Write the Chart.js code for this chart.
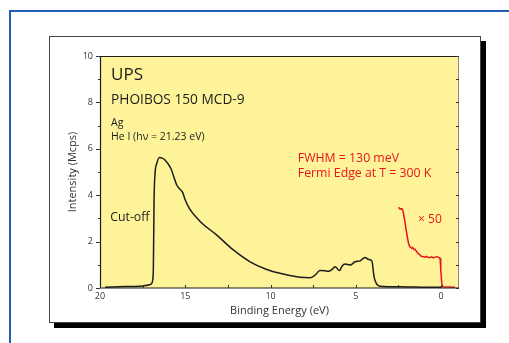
<!DOCTYPE html>
<html>
<head>
<meta charset="utf-8">
<script src="https://cdn.jsdelivr.net/npm/chart.js@4"></script>
<style>
  body { margin: 0; background: #fff; width: 509px; height: 343px; overflow: hidden; position: relative; }
  #frame { position: absolute; left: 9px; top: 10px; width: 600px; height: 400px; border-top: 2px solid #1f5fb5; border-left: 2px solid #1f5fb5; }
  #card { position: absolute; left: 49px; top: 36px; width: 430px; height: 285px; border: 1px solid #444; background: #fff; box-shadow: 5px 5px 0 #000; }
  canvas { display: block; }
</style>
</head>
<body>
<div id="frame"></div>
<div id="card"><canvas id="ups-chart" width="430" height="285"></canvas></div>
<script>
// spectrum, binding energy (eV) vs intensity (Mcps)
const energy = [19.7, 18.5, 17.5, 17.1, 16.97, 16.9, 16.87, 16.83, 16.77, 16.67, 16.52, 16.35, 16.19, 15.85, 15.5, 15.3, 15.15, 15.0, 14.76, 14.13, 13.15, 12.18, 11.2, 10.22, 9.25, 8.27, 7.68, 7.4, 7.1, 6.8, 6.61, 6.4, 6.22, 5.96, 5.8, 5.63, 5.34, 5.04, 4.75, 4.46, 4.26, 4.06, 3.93, 3.8, 3.68, 3.4, 2.5, 1.5, 0.5, 0.0, -0.05];
const intensity = [0.03, 0.06, 0.09, 0.14, 0.2, 0.4, 0.92, 3.8, 4.95, 5.37, 5.63, 5.6, 5.52, 5.16, 4.44, 4.25, 4.11, 3.79, 3.43, 2.87, 2.28, 1.64, 1.13, 0.8, 0.6, 0.46, 0.44, 0.55, 0.75, 0.74, 0.72, 0.8, 0.92, 0.75, 0.95, 1.03, 0.99, 1.13, 1.17, 1.32, 1.23, 1.17, 0.48, 0.2, 0.1, 0.06, 0.05, 0.04, 0.03, 0.03, 0.02];

// Fermi edge region, x 50
const edgeEnergy = [2.5, 2.4, 2.3, 2.25, 2.2, 2.12, 2.05, 1.98, 1.91, 1.85, 1.8, 1.72, 1.66, 1.6, 1.52, 1.45, 1.38, 1.33, 1.25, 1.18, 1.1, 1.03, 0.95, 0.85, 0.75, 0.65, 0.55, 0.45, 0.35, 0.25, 0.15, 0.06, 0.02, -0.04, -0.1, -0.4, -0.82];
const edgeIntensity = [3.48, 3.4, 3.42, 3.36, 3.2, 2.85, 2.5, 2.2, 1.93, 1.8, 1.76, 1.71, 1.74, 1.66, 1.67, 1.58, 1.52, 1.47, 1.44, 1.38, 1.36, 1.35, 1.33, 1.36, 1.31, 1.31, 1.34, 1.3, 1.33, 1.35, 1.32, 1.28, 0.8, 0.2, 0.05, 0.04, 0.03];

const xTicks = [20, 15, 10, 5, 0];
const xMinorTicks = [17.5, 12.5, 7.5, 2.5];
const yTicks = [0, 2, 4, 6, 8, 10];
const yMinorTicks = [1, 3, 5, 7, 9];

const ink = '#1c1c1c';
const red = '#e8141c';
const font = '"Open Sans", "Noto Sans", sans-serif';

// text labels placed in data coordinates
const notes = [
    { text: 'UPS', x: 19.35, y: 9.18, size: 17, color: ink },
    { text: 'PHOIBOS 150 MCD-9', x: 19.35, y: 8.1, size: 13.7, color: ink },
    { text: 'Ag', x: 19.35, y: 7.1, size: 10.5, color: ink },
    { text: 'He I (h\u03bd = 21.23 eV)', x: 19.35, y: 6.5, size: 10.5, color: ink },
    { text: 'Cut-off', x: 19.4, y: 3.05, size: 12.3, color: ink },
    { text: 'FWHM = 130 meV', x: 8.4, y: 5.6, size: 12.3, color: red },
    { text: 'Fermi Edge at T = 300 K', x: 8.4, y: 4.92, size: 12.3, color: red },
    { text: '\u00d7 50', x: 1.35, y: 2.95, size: 12, color: red }
];

const frameAndNotes = {
    id: 'frameAndNotes',
    beforeDraw(chart) {
        const {ctx, chartArea: a} = chart;
        ctx.save();
        ctx.fillStyle = '#fff399';
        ctx.fillRect(a.left, a.top, a.right - a.left, a.bottom - a.top);
        ctx.restore();
    },
    afterDraw(chart) {
        const {ctx, chartArea: a, scales: {x, y}} = chart;
        ctx.save();
        // box
        ctx.lineWidth = 1;
        ctx.strokeStyle = '#888';
        ctx.beginPath();
        ctx.moveTo(a.right - 0.5, a.top);
        ctx.lineTo(a.right - 0.5, a.bottom);
        ctx.stroke();
        ctx.strokeStyle = ink;
        ctx.lineWidth = 1.2;
        ctx.beginPath();
        ctx.moveTo(a.right, a.top + 0.5);
        ctx.lineTo(a.left + 0.5, a.top + 0.5);
        ctx.lineTo(a.left + 0.5, a.bottom);
        ctx.lineTo(a.right, a.bottom);
        ctx.stroke();
        // ticks
        ctx.lineWidth = 1;
        ctx.strokeStyle = '#333';
        ctx.beginPath();
        yTicks.concat(yMinorTicks).forEach(v => {
            const py = Math.round(y.getPixelForValue(v)) + 0.5;
            const len = yTicks.includes(v) ? 4 : 2;
            ctx.moveTo(a.left - len, py); ctx.lineTo(a.left, py);
            ctx.moveTo(a.right - 3, py); ctx.lineTo(a.right, py);
        });
        xTicks.concat(xMinorTicks).forEach(v => {
            const px = Math.round(x.getPixelForValue(v)) + 0.5;
            ctx.moveTo(px, a.bottom); ctx.lineTo(px, a.bottom - 3);
        });
        ctx.stroke();
        // notes
        ctx.textBaseline = 'middle';
        ctx.textAlign = 'left';
        notes.forEach(n => {
            ctx.font = n.size + 'px ' + font;
            ctx.fillStyle = n.color;
            ctx.fillText(n.text, x.getPixelForValue(n.x), y.getPixelForValue(n.y));
        });
        ctx.restore();
    }
};

new Chart(document.querySelector('#ups-chart').getContext('2d'), {
    type: 'scatter',
    data: {
        datasets: [
            {
                label: 'UPS',
                data: energy.map((e, i) => ({x: e, y: intensity[i]})),
                showLine: true,
                borderColor: ink,
                borderWidth: 1.5,
                pointRadius: 0,
                cubicInterpolationMode: 'monotone'
            },
            {
                label: 'x 50',
                data: edgeEnergy.map((e, i) => ({x: e, y: edgeIntensity[i]})),
                showLine: true,
                borderColor: red,
                borderWidth: 1.5,
                pointRadius: 0
            }
        ]
    },
    options: {
        responsive: false,
        animation: false,
        layout: { padding: { left: 0, top: 19, right: 21, bottom: 0 } },
        plugins: { legend: { display: false }, tooltip: { enabled: false } },
        scales: {
            x: {
                type: 'linear',
                reverse: true,
                min: -1.05,
                max: 20,
                afterBuildTicks: scale => { scale.ticks = xTicks.map(v => ({value: v})); },
                afterFit: scale => { scale.height = 34; },
                grid: { display: false, drawTicks: false },
                border: { display: false },
                ticks: { color: '#333', font: { family: font, size: 9 }, padding: 3, maxRotation: 0 },
                title: { display: true, text: 'Binding Energy (eV)', color: '#333', font: { family: font, size: 11 }, padding: { top: 0, bottom: 5 } }
            },
            y: {
                min: 0,
                max: 10,
                afterBuildTicks: scale => { scale.ticks = yTicks.map(v => ({value: v})); },
                afterFit: scale => { scale.width = 50; },
                grid: { display: false, drawTicks: false },
                border: { display: false },
                ticks: { color: '#333', font: { family: font, size: 9 }, padding: 7 },
                title: { display: true, text: 'Intensity (Mcps)', color: '#333', font: { family: font, size: 11 }, padding: { top: 16, bottom: 0 } }
            }
        }
    },
    plugins: [frameAndNotes]
});
</script>
</body>
</html>
